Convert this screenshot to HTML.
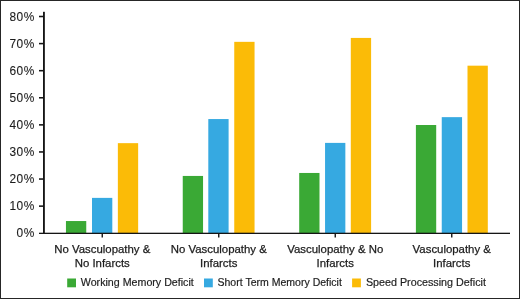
<!DOCTYPE html>
<html><head><meta charset="utf-8"><style>
html,body{margin:0;padding:0;background:#fff;}
.wrap{position:relative;width:520px;height:299px;box-sizing:border-box;border:1px solid #262626;background:#fff;overflow:hidden;}
svg{position:absolute;left:-1px;top:-1px;will-change:transform;}
text{font-family:"Liberation Sans", sans-serif;}
</style></head><body>
<div class="wrap"><svg width="520" height="299" viewBox="0 0 520 299">
<rect x="65.95" y="221.04" width="20.30" height="12.36" fill="#3aa935"/>
<rect x="92.00" y="197.88" width="20.30" height="35.52" fill="#36a9e1"/>
<rect x="117.85" y="143.16" width="20.30" height="90.24" fill="#fbbb07"/>
<rect x="182.75" y="175.94" width="20.30" height="57.46" fill="#3aa935"/>
<rect x="208.30" y="119.05" width="20.30" height="114.35" fill="#36a9e1"/>
<rect x="234.25" y="41.84" width="20.30" height="191.56" fill="#fbbb07"/>
<rect x="299.20" y="172.96" width="20.30" height="60.44" fill="#3aa935"/>
<rect x="325.05" y="142.89" width="20.30" height="90.51" fill="#36a9e1"/>
<rect x="350.80" y="37.92" width="20.30" height="195.48" fill="#fbbb07"/>
<rect x="415.90" y="125.01" width="20.30" height="108.39" fill="#3aa935"/>
<rect x="441.75" y="117.15" width="20.30" height="116.25" fill="#36a9e1"/>
<rect x="467.50" y="65.68" width="20.30" height="167.72" fill="#fbbb07"/>
<rect x="43" y="11.8" width="1.85" height="221.50" fill="#151515"/>
<rect x="39" y="232.7" width="471.00" height="1.3" fill="#151515"/>
<rect x="39" y="205.36" width="4.5" height="1.55" fill="#151515"/>
<rect x="39" y="178.27" width="4.5" height="1.55" fill="#151515"/>
<rect x="39" y="151.18" width="4.5" height="1.55" fill="#151515"/>
<rect x="39" y="124.09" width="4.5" height="1.55" fill="#151515"/>
<rect x="39" y="97.00" width="4.5" height="1.55" fill="#151515"/>
<rect x="39" y="69.91" width="4.5" height="1.55" fill="#151515"/>
<rect x="39" y="42.82" width="4.5" height="1.55" fill="#151515"/>
<rect x="39" y="15.73" width="4.5" height="1.55" fill="#151515"/>
<rect x="101.55" y="233.5" width="1.4" height="4" fill="#151515"/>
<rect x="218.05" y="233.5" width="1.4" height="4" fill="#151515"/>
<rect x="334.55" y="233.5" width="1.4" height="4" fill="#151515"/>
<rect x="451.05" y="233.5" width="1.4" height="4" fill="#151515"/>
<text x="35.0" y="237.30" text-anchor="end" font-size="11.9" letter-spacing="0.6" fill="#1c1c1c" stroke="#1c1c1c" stroke-width="0.1">0%</text>
<text x="35.0" y="210.21" text-anchor="end" font-size="11.9" letter-spacing="0.6" fill="#1c1c1c" stroke="#1c1c1c" stroke-width="0.1">10%</text>
<text x="35.0" y="183.12" text-anchor="end" font-size="11.9" letter-spacing="0.6" fill="#1c1c1c" stroke="#1c1c1c" stroke-width="0.1">20%</text>
<text x="35.0" y="156.03" text-anchor="end" font-size="11.9" letter-spacing="0.6" fill="#1c1c1c" stroke="#1c1c1c" stroke-width="0.1">30%</text>
<text x="35.0" y="128.94" text-anchor="end" font-size="11.9" letter-spacing="0.6" fill="#1c1c1c" stroke="#1c1c1c" stroke-width="0.1">40%</text>
<text x="35.0" y="101.85" text-anchor="end" font-size="11.9" letter-spacing="0.6" fill="#1c1c1c" stroke="#1c1c1c" stroke-width="0.1">50%</text>
<text x="35.0" y="74.76" text-anchor="end" font-size="11.9" letter-spacing="0.6" fill="#1c1c1c" stroke="#1c1c1c" stroke-width="0.1">60%</text>
<text x="35.0" y="47.67" text-anchor="end" font-size="11.9" letter-spacing="0.6" fill="#1c1c1c" stroke="#1c1c1c" stroke-width="0.1">70%</text>
<text x="35.0" y="20.58" text-anchor="end" font-size="11.9" letter-spacing="0.6" fill="#1c1c1c" stroke="#1c1c1c" stroke-width="0.1">80%</text>
<text x="102.25" y="252.8" text-anchor="middle" font-size="11.4" fill="#1c1c1c" stroke="#1c1c1c" stroke-width="0.25">No Vasculopathy &amp;</text>
<text x="102.25" y="266.6" text-anchor="middle" font-size="11.4" fill="#1c1c1c" stroke="#1c1c1c" stroke-width="0.25">No Infarcts</text>
<text x="218.75" y="252.8" text-anchor="middle" font-size="11.4" fill="#1c1c1c" stroke="#1c1c1c" stroke-width="0.25">No Vasculopathy &amp;</text>
<text x="218.75" y="266.6" text-anchor="middle" font-size="11.4" fill="#1c1c1c" stroke="#1c1c1c" stroke-width="0.25">Infarcts</text>
<text x="335.25" y="252.8" text-anchor="middle" font-size="11.4" fill="#1c1c1c" stroke="#1c1c1c" stroke-width="0.25">Vasculopathy &amp; No</text>
<text x="335.25" y="266.6" text-anchor="middle" font-size="11.4" fill="#1c1c1c" stroke="#1c1c1c" stroke-width="0.25">Infarcts</text>
<text x="451.75" y="252.8" text-anchor="middle" font-size="11.4" fill="#1c1c1c" stroke="#1c1c1c" stroke-width="0.25">Vasculopathy &amp;</text>
<text x="451.75" y="266.6" text-anchor="middle" font-size="11.4" fill="#1c1c1c" stroke="#1c1c1c" stroke-width="0.25">Infarcts</text>
<rect x="67.20" y="278.5" width="8.8" height="8.8" fill="#3aa935"/>
<text x="80.80" y="286.2" font-size="10.6" fill="#1c1c1c" stroke="#1c1c1c" stroke-width="0.18" textLength="113.0" lengthAdjust="spacingAndGlyphs">Working Memory Deficit</text>
<rect x="204.00" y="278.5" width="8.8" height="8.8" fill="#36a9e1"/>
<text x="217.50" y="286.2" font-size="10.6" fill="#1c1c1c" stroke="#1c1c1c" stroke-width="0.18" textLength="124.4" lengthAdjust="spacingAndGlyphs">Short Term Memory Deficit</text>
<rect x="352.10" y="278.5" width="8.8" height="8.8" fill="#fbbb07"/>
<text x="365.90" y="286.2" font-size="10.6" fill="#1c1c1c" stroke="#1c1c1c" stroke-width="0.18" textLength="120.0" lengthAdjust="spacingAndGlyphs">Speed Processing Deficit</text>
</svg></div>
</body></html>
